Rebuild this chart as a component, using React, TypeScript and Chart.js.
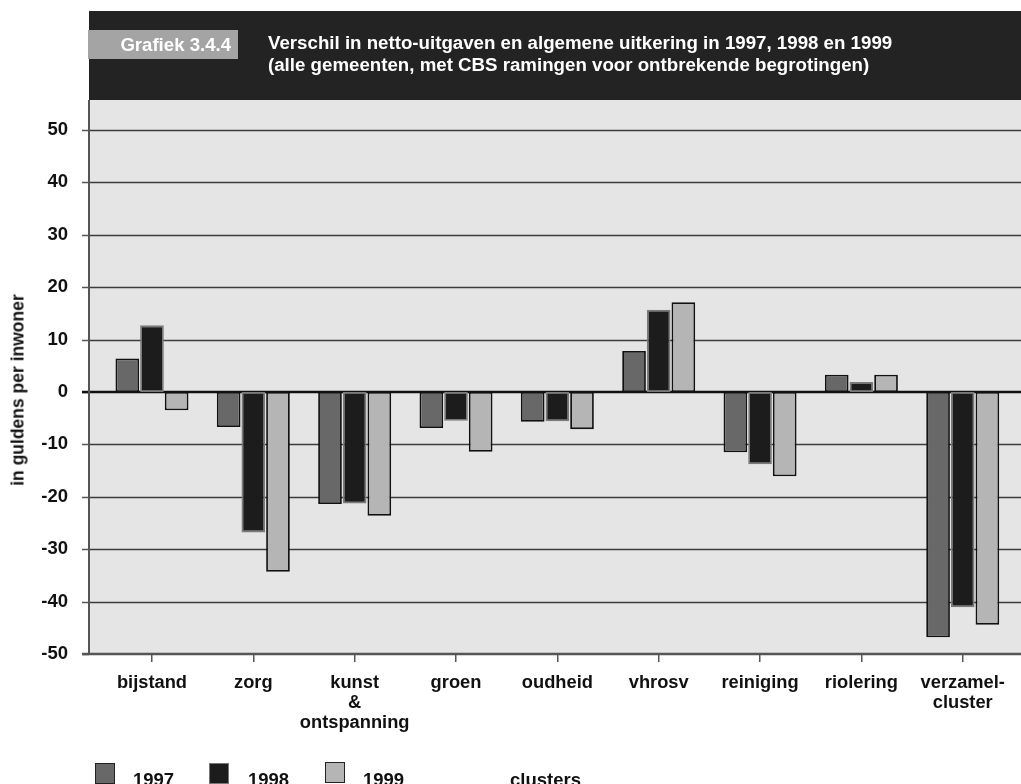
import React, { useEffect, useRef } from "react";
import { Chart, registerables } from "chart.js";

Chart.register(...registerables);

const categories: string[][] = [
  ["bijstand"],
  ["zorg"],
  ["kunst", "&", "ontspanning"],
  ["groen"],
  ["oudheid"],
  ["vhrosv"],
  ["reiniging"],
  ["riolering"],
  ["verzamel-", "cluster"],
];
const seriesNames = ["1997", "1998", "1999"];
const values1997 = [6.4, -6.7, -21.4, -6.9, -5.7, 7.8, -11.5, 3.3, -46.8];
const values1998 = [12.7, -26.8, -21.3, -5.5, -5.6, 15.7, -13.8, 1.9, -41.1];
const values1999 = [-3.5, -34.3, -23.6, -11.4, -7.1, 17.1, -16.1, 3.3, -44.4];
const yTicks = [-50, -40, -30, -20, -10, 0, 10, 20, 30, 40, 50];
const chartNumber = "Grafiek 3.4.4";
const titleLines = [
  "Verschil in netto-uitgaven en algemene uitkering in 1997, 1998 en 1999",
  "(alle gemeenten, met CBS ramingen voor ontbrekende begrotingen)",
];
const yTitle = "in guldens per inwoner";
const xTitle = "clusters";

const FILLS = ["#686868", "#1c1c1c", "#b5b5b5"];
const BORDERS = ["#111111", "#7a7a7a", "#111111"];
const FONT = '"Liberation Sans", Arial, Helvetica, sans-serif';

const PLOT_L = 89;
const PLOT_R = 1021;

const framePlugin = {
  id: "frame",
  beforeDraw(chart: any) {
    const { ctx, chartArea, scales } = chart;
    const y = scales.y;
    ctx.save();
    ctx.fillStyle = "#e5e5e5";
    ctx.fillRect(PLOT_L, chartArea.top, PLOT_R - PLOT_L, chartArea.bottom - chartArea.top);
    yTicks.forEach((v) => {
      const py = Math.round(y.getPixelForValue(v)) + 0.5;
      if (v !== 0 && v !== yTicks[0]) {
        ctx.strokeStyle = "#3c3c3c";
        ctx.lineWidth = 1.4;
        ctx.beginPath();
        ctx.moveTo(PLOT_L, py);
        ctx.lineTo(PLOT_R, py);
        ctx.stroke();
      }
      ctx.strokeStyle = "#555";
      ctx.lineWidth = 1.5;
      ctx.beginPath();
      ctx.moveTo(PLOT_L - 7, py);
      ctx.lineTo(PLOT_L, py);
      ctx.stroke();
    });
    ctx.restore();
  },
  beforeDatasetsDraw(chart: any) {
    const { ctx, scales } = chart;
    const y0 = scales.y.getPixelForValue(0);
    ctx.save();
    ctx.strokeStyle = "#111";
    ctx.lineWidth = 2.5;
    ctx.beginPath();
    ctx.moveTo(PLOT_L - 7, y0);
    ctx.lineTo(PLOT_R, y0);
    ctx.stroke();
    ctx.restore();
  },
  afterDatasetsDraw(chart: any) {
    const { ctx, chartArea, scales } = chart;
    const yb = scales.y.getPixelForValue(yTicks[0]);
    ctx.save();
    ctx.strokeStyle = "#555";
    ctx.lineWidth = 2;
    ctx.beginPath();
    ctx.moveTo(PLOT_L, chartArea.top);
    ctx.lineTo(PLOT_L, yb);
    ctx.stroke();
    ctx.lineWidth = 2.5;
    ctx.beginPath();
    ctx.moveTo(PLOT_L - 7, yb);
    ctx.lineTo(PLOT_R, yb);
    ctx.stroke();
    ctx.restore();
  },
};

export default function App() {
  const ref = useRef<HTMLCanvasElement | null>(null);

  useEffect(() => {
    document.body.style.margin = "0";
    const canvas = ref.current;
    if (!canvas) return;
    const seriesValues = [values1997, values1998, values1999];
    const chart = new Chart(canvas, {
      type: "bar",
      data: {
        labels: categories,
        datasets: seriesNames.map((name, i) => ({
          label: name,
          data: seriesValues[i],
          backgroundColor: FILLS[i],
          borderColor: BORDERS[i],
          borderWidth: 1.8,
          borderSkipped: false,
          categoryPercentage: 0.73,
          barPercentage: 0.96,
        })),
      },
      options: {
        animation: false,
        responsive: false,
        maintainAspectRatio: false,
        events: [],
        layout: { padding: { top: 100, right: 7.6, left: 0, bottom: 0 } },
        plugins: {
          legend: { display: false },
          tooltip: { enabled: false },
          title: { display: false },
        },
        scales: {
          x: {
            type: "category",
            offset: true,
            grid: {
              display: true,
              offset: false,
              drawOnChartArea: false,
              drawTicks: true,
              tickLength: 8,
              color: "#555",
              lineWidth: 1.5,
            },
            border: { display: false },
            ticks: {
              color: "#111",
              padding: 11,
              maxRotation: 0,
              autoSkip: false,
              font: { family: FONT, size: 18.3, weight: "bold", lineHeight: 1.1 },
            },
            afterFit: (s: any) => {
              s.height = 130;
            },
          },
          y: {
            min: -50,
            max: 55.7,
            afterBuildTicks: (s: any) => {
              s.ticks = yTicks.map((v) => ({ value: v }));
            },
            grid: { display: false, drawTicks: false },
            border: { display: false },
            ticks: {
              color: "#111",
              padding: 33.3,
              font: { family: FONT, size: 18.5, weight: "bold" },
            },
            afterFit: (s: any) => {
              s.width = 101.3;
            },
          },
        },
      } as any,
      plugins: [framePlugin],
    });
    return () => chart.destroy();
  }, []);

  const txt: React.CSSProperties = {
    position: "absolute",
    fontFamily: FONT,
    fontWeight: "bold",
    whiteSpace: "nowrap",
  };
  const legendX = [
    { box: 95, text: 133, top: 763 },
    { box: 209, text: 248, top: 763 },
    { box: 325, text: 363, top: 762 },
  ];

  return (
    <div
      style={{
        position: "relative",
        width: 1021,
        height: 784,
        overflow: "hidden",
        background: "#fff",
      }}
    >
      <canvas
        ref={ref}
        width={1021}
        height={784}
        style={{ position: "absolute", left: 0, top: 0, width: 1021, height: 784 }}
      />
      <div
        style={{
          position: "absolute",
          left: 89,
          top: 11,
          width: 932,
          height: 89,
          background: "#232323",
        }}
      />
      <div
        style={{
          ...txt,
          left: 88,
          top: 30,
          width: 150,
          height: 29,
          background: "#a4a4a4",
          color: "#fff",
          fontSize: 18.6,
          lineHeight: "29px",
          textAlign: "right",
          paddingRight: 7,
          boxSizing: "border-box",
        }}
      >
        {chartNumber}
      </div>
      <div
        style={{
          ...txt,
          left: 268,
          top: 32,
          color: "#fff",
          fontSize: 18.7,
          lineHeight: "22px",
        }}
      >
        {titleLines.map((l, i) => (
          <div key={i}>{l}</div>
        ))}
      </div>
      <div
        style={{
          ...txt,
          left: 18,
          top: 390,
          color: "#111",
          fontSize: 17.5,
          transform: "translate(-50%, -50%) rotate(-90deg)",
        }}
      >
        {yTitle}
      </div>
      {seriesNames.map((name, i) => (
        <React.Fragment key={name}>
          <div
            style={{
              position: "absolute",
              left: legendX[i].box,
              top: legendX[i].top,
              width: 20,
              height: 21,
              background: FILLS[i],
              border: `1.5px solid ${i === 1 ? "#777" : "#222"}`,
              boxSizing: "border-box",
            }}
          />
          <div
            style={{
              ...txt,
              left: legendX[i].text,
              top: 768.5,
              color: "#111",
              fontSize: 18.5,
              lineHeight: "22px",
            }}
          >
            {name}
          </div>
        </React.Fragment>
      ))}
      <div
        style={{
          ...txt,
          left: 510,
          top: 768.5,
          color: "#111",
          fontSize: 18.5,
          lineHeight: "22px",
        }}
      >
        {xTitle}
      </div>
    </div>
  );
}
